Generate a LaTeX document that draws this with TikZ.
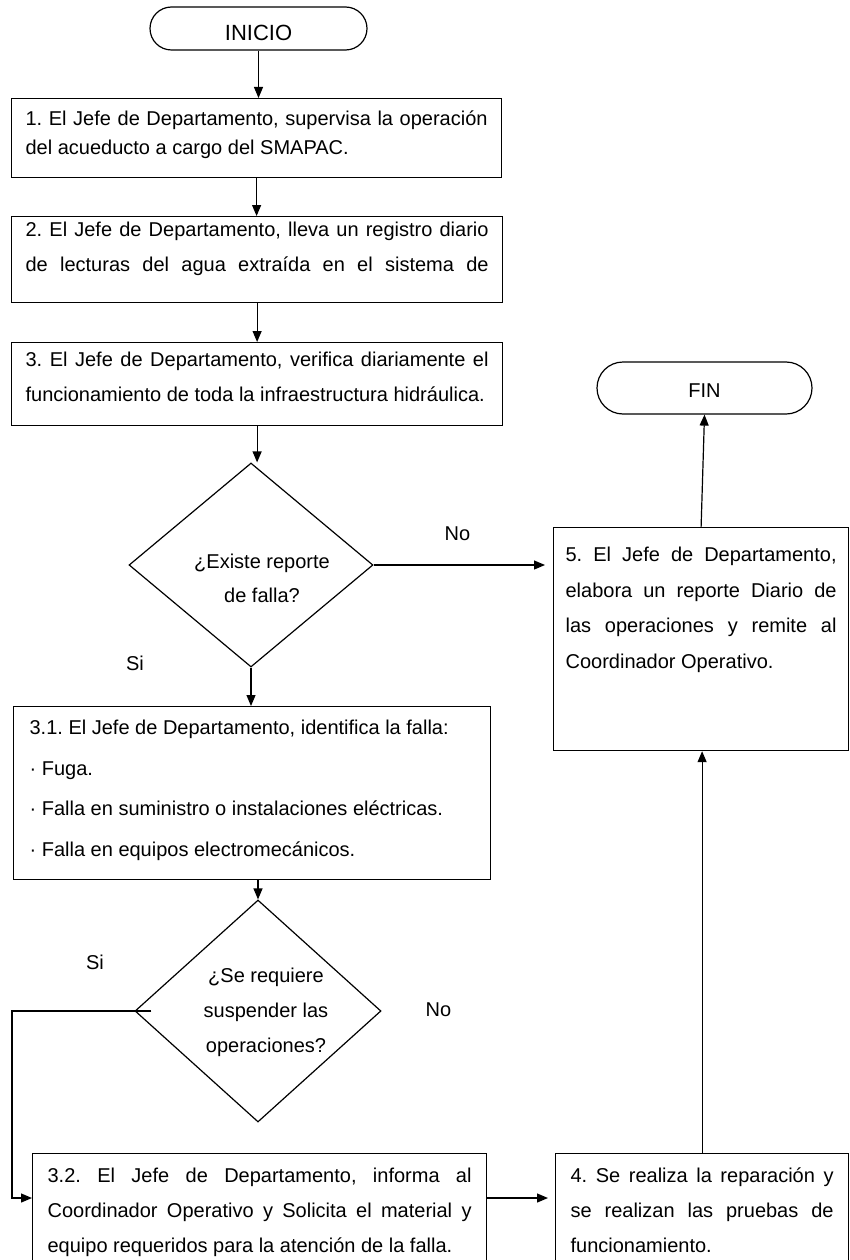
\documentclass[tikz,border=0pt]{standalone}
\usepackage{fontspec}
\setmainfont{Liberation Sans}
\usetikzlibrary{shapes.geometric,shapes.misc,arrows.meta}
\frenchspacing
\newcommand{\J}[1]{\makebox[\linewidth][s]{#1}}
\newcommand{\btxt}[5]{\parbox[c][#2][t]{#1}{\frenchspacing\setlength{\baselineskip}{#4}\setlength{\parskip}{0pt}\rule{0pt}{#3}#5}}
\tikzset{
  every node/.style={font=\fontsize{20pt}{24pt}\selectfont},
  box/.style={draw, line width=1.2pt, rectangle, inner sep=0pt, anchor=north west},
  term/.style={draw, line width=1.2pt, rounded rectangle, inner xsep=0pt, inner ysep=0pt, text depth=0pt},
  dec/.style={draw, line width=1.2pt, diamond, inner sep=0pt},
  lbl/.style={align=center, inner sep=0pt},
  txt/.style={inner sep=0pt},
  arr/.style={line width=1.2pt, -{Triangle[length=11pt,width=9pt]}}
}
\begin{document}
\begin{tikzpicture}[x=1pt,y=-1pt]
\useasboundingbox (0,0) rectangle (849,1260);
\clip (0,0) rectangle (849,1260);

% terminals
\node[term, minimum width=217pt, minimum height=43pt, text height=25pt, font=\fontsize{22pt}{26pt}\selectfont] (ini) at (258.5,28.5) {INICIO};
\node[term, minimum width=215pt, minimum height=52pt, text height=18pt] (fin) at (704.5,388) {FIN};

% process boxes
\node[box, minimum width=490pt] (b1) at (11,98)
  {\btxt{462pt}{79pt}{27pt}{29pt}{\J{1. El Jefe de Departamento, supervisa la operación}\\del acueducto a cargo del SMAPAC.}};
\node[box, minimum width=491pt] (b2) at (11,216)
  {\btxt{463pt}{86pt}{20pt}{35pt}{\J{2. El Jefe de Departamento, lleva un registro diario}\\\J{de lecturas del agua extraída en el sistema de}}};
\node[box, minimum width=491pt] (b3) at (11,342)
  {\btxt{463pt}{83pt}{24pt}{35pt}{\J{3. El Jefe de Departamento, verifica diariamente el}\\funcionamiento de toda la infraestructura hidráulica.}};
\node[box, minimum width=295pt] (b5) at (553,527)
  {\btxt{271pt}{223pt}{34pt}{35.5pt}{\J{5. El Jefe de Departamento,}\\\J{elabora un reporte Diario de}\\\J{las operaciones y remite al}\\Coordinador Operativo.}};
\node[box, minimum width=477pt] (b31) at (13,706)
  {\btxt{445pt}{173pt}{28pt}{40.5pt}{3.1. El Jefe de Departamento, identifica la falla:\\· Fuga.\\· Falla en suministro o instalaciones eléctricas.\\· Falla en equipos electromecánicos.}};
\node[box, minimum width=454pt] (b32) at (32,1153)
  {\btxt{424pt}{120pt}{29pt}{35pt}{\J{3.2. El Jefe de Departamento, informa al}\\\J{Coordinador Operativo y Solicita el material y}\\equipo requeridos para la atención de la falla.}};
\node[box, minimum width=293pt] (b4) at (555,1153)
  {\btxt{263pt}{120pt}{29pt}{35pt}{\J{4. Se realiza la reparación y}\\\J{se realizan las pruebas de}\\funcionamiento.}};

% decisions
\node[dec, minimum width=244pt, minimum height=204pt,
  label={[lbl, font=\fontsize{20pt}{34pt}\selectfont, xshift=11pt, yshift=-13pt]center:¿Existe reporte\\de falla?}] (d1) at (251,565) {};
\node[dec, minimum width=246pt, minimum height=222pt,
  label={[lbl, font=\fontsize{20pt}{35pt}\selectfont, xshift=8pt, yshift=-1pt]center:¿Se requiere\\suspender las\\operaciones?}] (d2) at (258,1011) {};

% branch labels
\node[txt] (no1) at (457.5,533.5) {No};
\node[txt] (si1) at (135,663.5) {Si};
\node[txt] (si2) at (95,962) {Si};
\node[txt] (no2) at (438.5,1009.5) {No};

% helper coordinates
\coordinate (sic) at (12,1011);
\coordinate (mid) at (0,1198);

% connectors
\draw[arr] (ini.south) -- (ini.south |- b1.north);
\draw[arr] (b1.south) -- (b1.south |- b2.north);
\draw[arr] (b2.south) -- (b2.south |- b3.north);
\draw[arr] (b3.south) -- (b3.south |- d1.north);
\draw[arr, shorten >=8pt] (d1.east) -- (b5.west |- d1.east);
\draw[arr] (d1.south) -- (d1.south |- b31.north);
\draw[arr] (d2.north |- b31.south) -- (d2.north);
\draw[arr] ([xshift=17pt]d2.west) -- (sic) |- (b32.west |- mid);
\draw[arr, shorten >=7pt] (b32.east |- mid) -- (b4.west |- mid);
\draw[arr] (b4.north) -- (b4.north |- b5.south);
\draw[arr] (b5.north) -- (fin.south);
\end{tikzpicture}
\end{document}
